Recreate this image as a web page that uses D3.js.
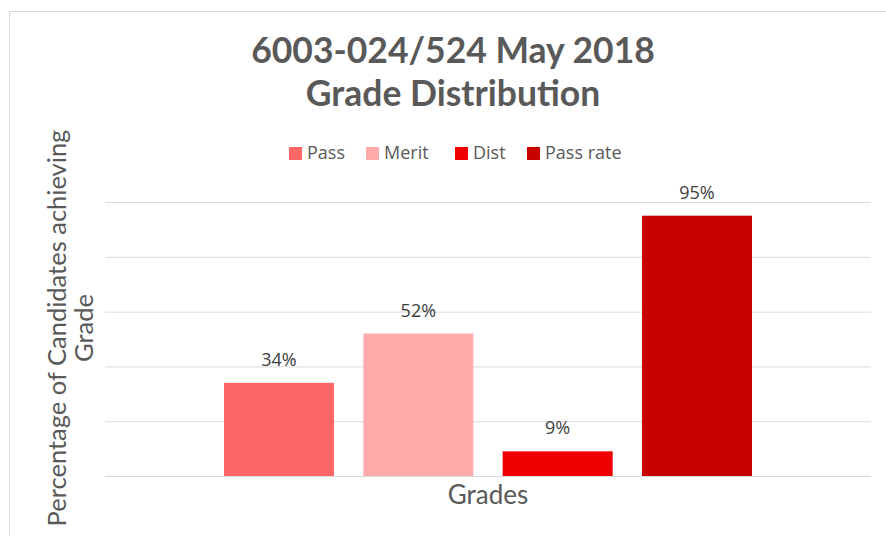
<!DOCTYPE html>
<html>
<head>
<meta charset="utf-8">
<script src="https://cdn.jsdelivr.net/npm/d3@7"></script>
<style>
  body { margin: 0; background: #fff; }
  text { font-family: Lato, "Open Sans", sans-serif; }
</style>
</head>
<body>
<div id="chart"></div>
<script>
var series = ["Pass", "Merit", "Dist", "Pass rate"];
var values = [34, 52, 9, 95];
var colors = ["#ff6666", "#ffabab", "#ee0000", "#c80000"];
var category = ["Grades"];
var yTicks = [0, 20, 40, 60, 80, 100];

var svgWidth = 886;
var svgHeight = 536;

var margin = {
    top: 202,
    right: 15,
    bottom: 60,
    left: 105
}

var width = svgWidth - margin.left - margin.right;
var height = svgHeight - margin.top - margin.bottom;

var svg = d3.select("#chart")
    .append("svg")
    .attr("width", svgWidth)
    .attr("height", svgHeight);

// chart area border (right and bottom run off the picture)
svg.append("rect")
    .attr("x", 9.5)
    .attr("y", 11.5)
    .attr("width", 900)
    .attr("height", 600)
    .attr("fill", "none")
    .attr("stroke", "#d9d9d9");

var chartGroup = svg.append("g")
    .attr("transform", `translate(${margin.left}, ${margin.top})`);

var y = d3.scaleLinear()
    .domain([0, 100])
    .range([height, 0]);

var x0 = d3.scaleBand()
    .domain(category)
    .range([0, width])
    .paddingInner(0)
    .paddingOuter(0.2254);

var x1 = d3.scaleBand()
    .domain(series)
    .range([0, x0.bandwidth()])
    .paddingInner(0.2105);

var color = d3.scaleOrdinal()
    .domain(series)
    .range(colors);

// gridlines
var yAxis = d3.axisLeft(y)
    .tickValues(yTicks)
    .tickSize(-width)
    .tickFormat("");

chartGroup.append("g")
    .call(yAxis)
    .call(g => g.select(".domain").remove())
    .call(g => g.selectAll(".tick line")
        .attr("stroke", "#d9d9d9")
        .attr("stroke-width", 1));

var data = series.map((s, i) => ({ name: s, value: values[i] }));

var group = chartGroup.append("g")
    .attr("transform", `translate(${x0("Grades")}, 0)`);

group.selectAll("rect")
    .data(data)
    .enter()
    .append("rect")
    .attr("x", d => x1(d.name))
    .attr("y", d => y(d.value))
    .attr("width", x1.bandwidth())
    .attr("height", d => height - y(d.value))
    .attr("fill", d => color(d.name));

group.selectAll(".label")
    .data(data)
    .enter()
    .append("text")
    .attr("class", "label")
    .attr("x", d => x1(d.name) + x1.bandwidth() / 2)
    .attr("y", d => y(d.value) - 17)
    .attr("text-anchor", "middle")
    .attr("fill", "#404040")
    .style("font-family", "'Open Sans', sans-serif")
    .style("font-size", "18px")
    .text(d => d.value + "%");

// x axis title
chartGroup.append("text")
    .attr("x", width / 2)
    .attr("y", height + 28)
    .attr("text-anchor", "middle")
    .attr("fill", "#595959")
    .style("font-size", "26px")
    .text("Grades");

// y axis title
var yTitle = svg.append("text")
    .attr("transform", `translate(66, 328) rotate(-90)`)
    .attr("text-anchor", "middle")
    .attr("fill", "#595959")
    .style("font-size", "25.5px");
yTitle.append("tspan").attr("x", 0).attr("dy", 0).text("Percentage of Candidates achieving");
yTitle.append("tspan").attr("x", 0).attr("dy", 27).text("Grade");

// title
var title = svg.append("text")
    .attr("text-anchor", "middle")
    .attr("fill", "#595959")
    .style("font-size", "35.5px")
    .style("font-weight", "bold");
title.append("tspan").attr("x", 453).attr("y", 63).text("6003-024/524 May 2018");
title.append("tspan").attr("x", 453).attr("y", 106).text("Grade Distribution");

// legend
var legendX = [289, 366, 455, 527];
var legend = svg.append("g");
var item = legend.selectAll("g")
    .data(series)
    .enter()
    .append("g")
    .attr("transform", (d, i) => `translate(${legendX[i]}, 147)`);
item.append("rect")
    .attr("width", 13)
    .attr("height", 13)
    .attr("fill", d => color(d));
item.append("text")
    .attr("x", 18)
    .attr("y", 12)
    .attr("fill", "#595959")
    .style("font-family", "'Open Sans', sans-serif")
    .style("font-size", "18px")
    .text(d => d);
</script>
</body>
</html>
